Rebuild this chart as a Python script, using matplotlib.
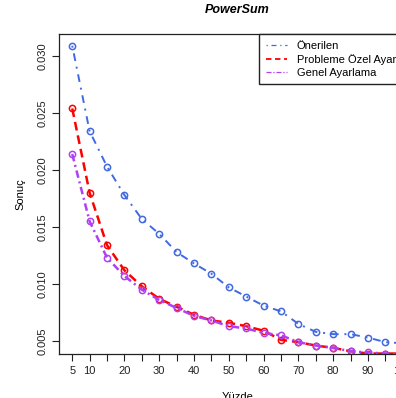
import matplotlib
matplotlib.use("Agg")
import matplotlib.pyplot as plt

plt.rcParams['font.family'] = ['Liberation Sans', 'DejaVu Sans']

# Veriler
yuzde = [5, 10, 15, 20, 25, 30, 35, 40, 45, 50, 55, 60, 65, 70, 75, 80, 85, 90, 95, 100]

onerilen = [0.0309, 0.0234, 0.0203, 0.0178, 0.0157, 0.0144, 0.0128, 0.0118, 0.0109, 0.0097,
            0.0089, 0.0081, 0.0076, 0.0065, 0.0058, 0.0056, 0.0056, 0.0053, 0.0049, 0.0048]

probleme_ozel = [0.0254, 0.0180, 0.0134, 0.0112, 0.0098, 0.0087, 0.0080, 0.0073, 0.0068, 0.0066,
                 0.0063, 0.0059, 0.0051, 0.0049, 0.0046, 0.0044, 0.0041, 0.0039, 0.0039, 0.0039]

genel = [0.0214, 0.0155, 0.0123, 0.0107, 0.0095, 0.0086, 0.0079, 0.0072, 0.0068, 0.0063,
         0.0061, 0.0057, 0.0055, 0.0049, 0.0046, 0.0044, 0.0041, 0.0040, 0.0039, 0.0038]

etiketler = ["Önerilen", "Probleme Özel Ayarlama", "Genel Ayarlama"]

x_etiket_yerleri = [5, 10, 20, 30, 40, 50, 60, 70, 80, 90, 100]
y_tikler = [0.005, 0.010, 0.015, 0.020, 0.025, 0.030]

fig = plt.figure(figsize=(3.96, 3.98), dpi=100)
# Eksen sağ tarafta resmin dışına taşıyor (orijinal kırpılmış)
ax = fig.add_axes([59 / 396, 1 - 354 / 398, 357 / 396, 320 / 398])

ax.plot(yuzde, onerilen, color='royalblue', lw=1.4, ls=(0, (1, 3, 4, 3)),
        marker='o', mfc='none', ms=4.5, mew=1.1, label=etiketler[0])
ax.plot(yuzde, probleme_ozel, color='red', lw=1.8, ls=(0, (3.5, 2)),
        marker='o', mfc='none', ms=4.5, mew=1.1, label=etiketler[1])
ax.plot(yuzde, genel, color='#b040f0', lw=1.8, ls=(0, (3, 1.5, 0.8, 1.5)),
        marker='o', mfc='none', ms=4.5, mew=1.1, label=etiketler[2])

ax.set_xlim(1.2, 103.8)
ax.set_ylim(0.00386, 0.03193)

ax.set_xticks(yuzde)
ax.set_xticklabels([str(v) if v in x_etiket_yerleri else "" for v in yuzde])
ax.set_yticks(y_tikler)
ax.set_yticklabels(["%.3f" % v for v in y_tikler])
ax.tick_params(axis='both', direction='out', length=5, width=0.8, colors='#222222',
               labelsize=8)
ax.tick_params(axis='x', pad=4)
ax.tick_params(axis='y', labelrotation=90, pad=3)
for lab in ax.get_yticklabels():
    lab.set_va('center')

for s in ax.spines.values():
    s.set_color('#222222')
    s.set_linewidth(0.9)

ax.set_title("PowerSum", fontsize=9, fontweight='bold', fontstyle='italic', pad=15)
ax.set_xlabel("Yüzde", fontsize=8, labelpad=11)
ax.set_ylabel("Sonuç", fontsize=8, labelpad=9)

leg = ax.legend(loc='upper left', bbox_to_anchor=((259 - 59) / 357, 1.0), borderaxespad=0,
                fancybox=False, edgecolor='#222222', framealpha=1, fontsize=8,
                handlelength=1.9, handletextpad=0.9, labelspacing=0.28, borderpad=0.6,
                markerscale=0)
# Lejanttaki çizgiler daha ince
stiller = [(0, (1, 3, 4, 3)), (0, (3, 2)), (0, (4, 1.5, 1, 1.5))]
for cizgi, kalinlik, stil in zip(leg.get_lines(), [0.9, 1.3, 0.9], stiller):
    cizgi.set_linewidth(kalinlik)
    cizgi.set_linestyle(stil)

fig.savefig("out.png", dpi=100)
